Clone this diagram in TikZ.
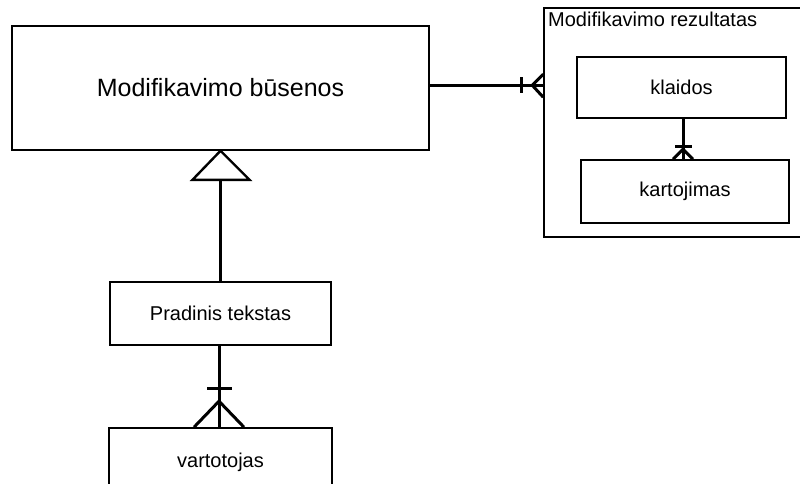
\documentclass[tikz,border=0pt]{standalone}
\usepackage{fontspec}
\setmainfont{Liberation Sans}
\usetikzlibrary{calc}
\begin{document}
\begin{tikzpicture}[x=1pt,y=-1pt,
  box/.style={draw,line width=1.6pt,rectangle,inner sep=0pt},
  link/.style={line width=3pt},
  title/.style={font=\fontsize{25}{30}\selectfont},
  txt/.style={font=\fontsize{20}{24}\selectfont}]
\useasboundingbox (0,0) rectangle (800,484);
\clip (0,0) rectangle (800,484);
% main entity
\node[box,title,minimum width=417pt,minimum height=124pt] (big) at (220.5,88) {Modifikavimo būsenos};
% result group with its two entities
\node[box,minimum width=258pt,minimum height=229pt] (grp) at (673,122.5) {};
\node[txt,anchor=north west,inner sep=0pt] (grplbl) at (548,12) {Modifikavimo rezultatas};
\node[box,txt,minimum width=209pt,minimum height=61pt] (klaidos) at (681.5,87.5) {klaidos};
\node[box,txt,minimum width=208pt,minimum height=63pt] (kart) at (685,191.5) {kartojimas};
% lower entities
\node[box,txt,minimum width=221pt,minimum height=63pt] (prad) at (220.5,313.5) {Pradinis tekstas};
\node[box,txt,minimum width=223pt,minimum height=68pt] (vart) at (220.5,462) {vartotojas};

% one-to-many: main entity -> result group
\coordinate (a1) at ([yshift=-60pt]big.north east);
\coordinate (a2) at (a1 -| grp.west);
\draw[link] (a1) -- (a2);
\draw[link] ($(a2)+(-22,-8)$) -- ($(a2)+(-22,8)$);
\draw[link] ($(a2)+(0,-11)$) -- ($(a2)+(-11,0)$) -- ($(a2)+(0,12)$);

% one-to-many: klaidos -> kartojimas
\coordinate (b1) at ([xshift=1.5pt]klaidos.south);
\coordinate (b2) at (b1 |- kart.north);
\draw[link] (b1) -- (b2);
\draw[link] ($(b2)+(-8,-13)$) -- ($(b2)+(9,-13)$);
\draw[link] ($(b2)+(-10,0)$) -- ($(b2)+(0,-10)$) -- ($(b2)+(10,0)$);

% generalisation: Pradinis tekstas -> main entity
\coordinate (c1) at (big.south);
\coordinate (c2) at ($(c1)+(0,29)$);
\draw[line width=2.4pt,line join=miter] (c1) -- ($(c2)+(29,0)$) -- ($(c2)+(-28,0)$) -- cycle;
\draw[link] (c2) -- (c2 |- prad.north);

% one-to-many: Pradinis tekstas -> vartotojas
\coordinate (d1) at ([xshift=-1.5pt]prad.south);
\coordinate (d2) at (d1 |- vart.north);
\draw[link] (d1) -- (d2);
\draw[link] ($(d2)+(-12,-39)$) -- ($(d2)+(13,-39)$);
\draw[link] ($(d2)+(-25,0)$) -- ($(d2)+(0,-26)$) -- ($(d2)+(25,0)$);
\end{tikzpicture}
\end{document}
